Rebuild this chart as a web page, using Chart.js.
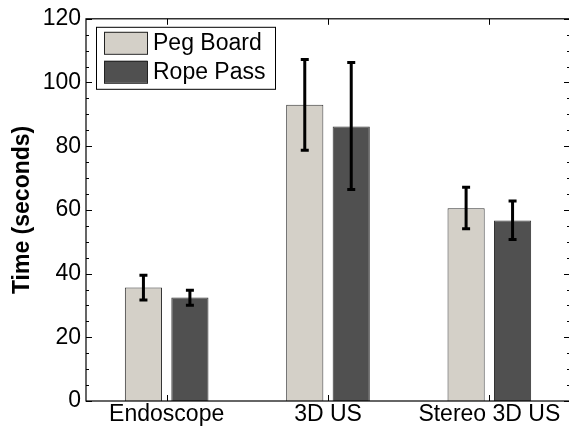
<!DOCTYPE html>
<html>
<head>
<meta charset="utf-8">
<script src="https://cdn.jsdelivr.net/npm/chart.js@4"></script>
<style>
  html, body { margin: 0; padding: 0; background: #fff; overflow: hidden; }
  #wrap { width: 575px; height: 431px; }
</style>
</head>
<body>
<div id="wrap"><canvas id="graph1" width="575" height="431"></canvas></div>
<script>
const categories = ['Endoscope', '3D US', 'Stereo 3D US'];
const seriesNames = ['Peg Board', 'Rope Pass'];
const pegBoard = [35.6, 93.0, 60.5];
const pegBoardLow = [31.7, 78.7, 54.1];
const pegBoardHigh = [39.5, 107.2, 67.1];
const ropePass = [32.5, 86.2, 56.7];
const ropePassLow = [30.1, 66.4, 50.7];
const ropePassHigh = [34.8, 106.3, 62.8];
const yTicks = [0, 20, 40, 60, 80, 100, 120];

const colors = ['#d4d0c8', '#505050'];
const FONT = 'Liberation Sans, Arial, sans-serif';

const errorRanges = [[pegBoardLow, pegBoardHigh], [ropePassLow, ropePassHigh]];

const boxPlugin = {
    id: 'boxPlugin',
    afterDatasetsDraw(chart) {
        const ctx = chart.ctx;
        const y = chart.scales.y;
        ctx.save();
        ctx.strokeStyle = '#000';
        chart.data.datasets.forEach((ds, i) => {
            const meta = chart.getDatasetMeta(i);
            meta.data.forEach((bar, j) => {
                const lo = y.getPixelForValue(errorRanges[i][0][j]);
                const hi = y.getPixelForValue(errorRanges[i][1][j]);
                ctx.lineWidth = 3;
                ctx.beginPath();
                ctx.moveTo(bar.x, lo);
                ctx.lineTo(bar.x, hi);
                ctx.moveTo(bar.x - 4, lo);
                ctx.lineTo(bar.x + 4, lo);
                ctx.moveTo(bar.x - 4, hi);
                ctx.lineTo(bar.x + 4, hi);
                ctx.stroke();
            });
        });
        ctx.restore();
    },
    afterDraw(chart) {
        const ctx = chart.ctx;
        const a = chart.chartArea;
        const x = chart.scales.x;
        const y = chart.scales.y;
        ctx.save();
        ctx.strokeStyle = '#000';
        ctx.lineWidth = 1.2;
        ctx.strokeRect(a.left, a.top, a.right - a.left, a.bottom - a.top);

        // y ticks, major and minor, both sides
        ctx.lineWidth = 1;
        ctx.beginPath();
        for (let v = 0; v <= 120; v += 5) {
            const py = Math.round(y.getPixelForValue(v)) + 0.5;
            const len = v % 20 === 0 ? 6 : 3;
            ctx.moveTo(a.left, py); ctx.lineTo(a.left + len, py);
            ctx.moveTo(a.right, py); ctx.lineTo(a.right - len, py);
        }
        // x ticks top and bottom
        categories.forEach((c, j) => {
            const px = Math.round(x.getPixelForValue(j)) + 0.5;
            ctx.moveTo(px, a.top); ctx.lineTo(px, a.top + 6);
            ctx.moveTo(px, a.bottom); ctx.lineTo(px, a.bottom - 6);
        });
        ctx.stroke();

        // legend
        const lx = a.left + 10, ly = a.top + 8;
        ctx.fillStyle = '#fff';
        ctx.fillRect(lx, ly, 179, 62);
        ctx.lineWidth = 1;
        ctx.strokeRect(lx + 0.5, ly + 0.5, 179, 62);
        ctx.font = '23px ' + FONT;
        ctx.textBaseline = 'middle';
        seriesNames.forEach((name, i) => {
            const ry = ly + 5 + i * 29;
            ctx.fillStyle = colors[i];
            ctx.fillRect(lx + 8, ry, 43, 22);
            ctx.strokeStyle = '#222';
            ctx.strokeRect(lx + 8.5, ry + 0.5, 43, 22);
            ctx.fillStyle = '#000';
            ctx.fillText(name, lx + 57, ry + 12);
        });
        ctx.restore();
    }
};

new Chart(document.getElementById('graph1'), {
    type: 'bar',
    data: {
        labels: categories,
        datasets: [
            { label: seriesNames[0], data: pegBoard, backgroundColor: colors[0], borderColor: '#333', borderWidth: 1 },
            { label: seriesNames[1], data: ropePass, backgroundColor: colors[1], borderColor: '#333', borderWidth: 1 }
        ]
    },
    options: {
        responsive: false,
        animation: false,
        categoryPercentage: 0.576,
        barPercentage: 0.8,
        layout: { padding: { top: 18, right: 5, left: 0, bottom: 0 } },
        plugins: { legend: { display: false }, tooltip: { enabled: false } },
        scales: {
            x: {
                grid: { display: false, drawTicks: false },
                border: { display: false },
                ticks: { color: '#000', font: { family: FONT, size: 23 }, padding: 0, maxRotation: 0 },
                afterFit: s => { s.height = 30; }
            },
            y: {
                min: 0, max: 120,
                afterBuildTicks: s => { s.ticks = yTicks.map(v => ({ value: v })); },
                grid: { display: false, drawTicks: false },
                border: { display: false },
                ticks: { color: '#000', font: { family: FONT, size: 23 }, padding: 5 },
                title: { display: true, text: 'Time (seconds)', color: '#000', font: { family: FONT, size: 23, weight: 'bold' }, padding: { top: 9, bottom: 0 } },
                afterFit: s => { s.width = 86; }
            }
        }
    },
    plugins: [boxPlugin]
});
</script>
</body>
</html>
